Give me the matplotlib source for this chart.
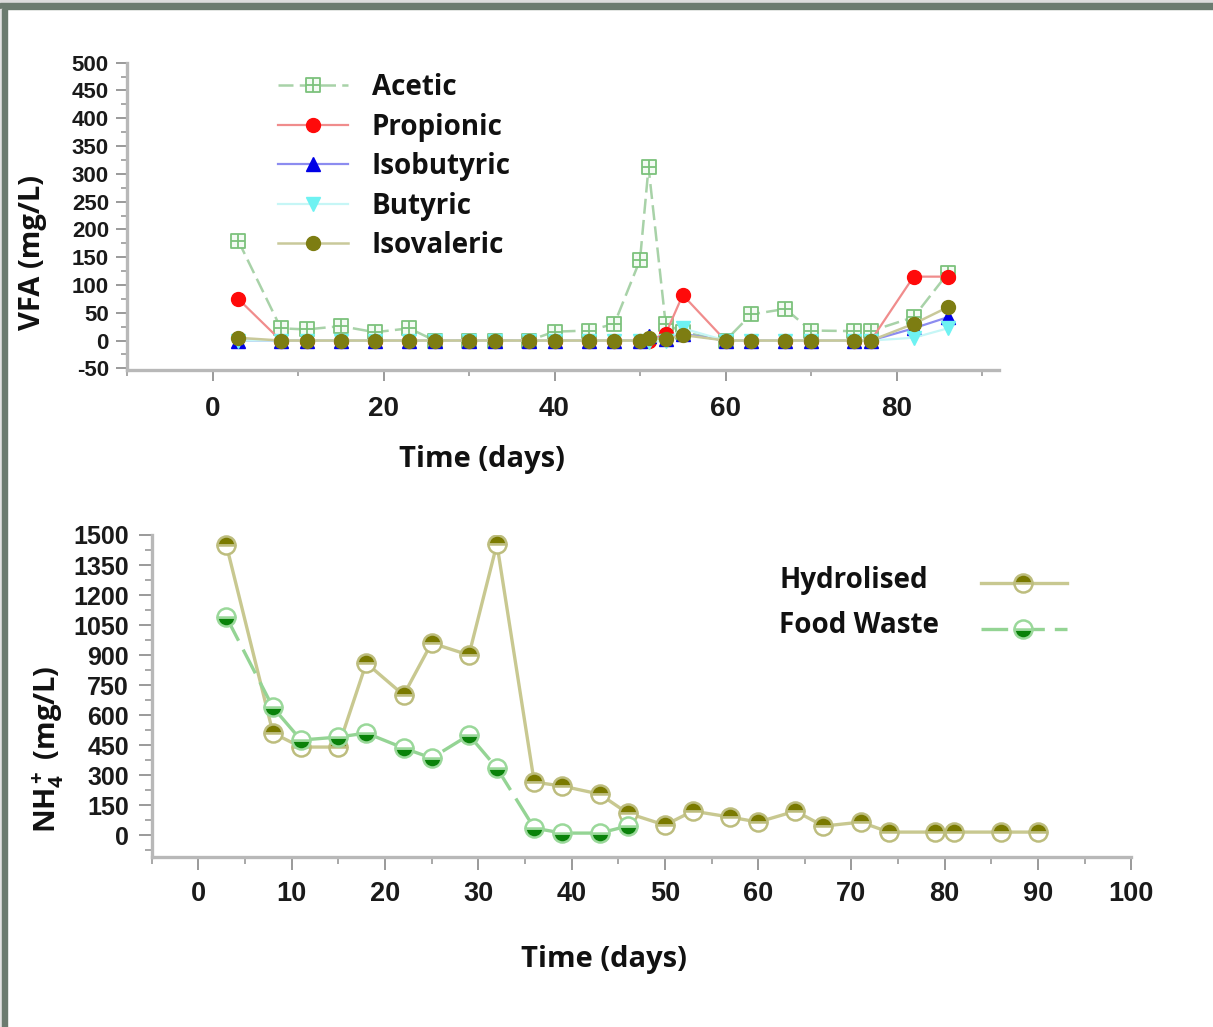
import matplotlib
matplotlib.use("Agg")
import matplotlib.pyplot as plt
from matplotlib.path import Path
from matplotlib.patches import Rectangle
from matplotlib.lines import Line2D
from matplotlib.ticker import MultipleLocator

# ---------------- data ----------------
vfa_days = [3, 8, 11, 15, 19, 23, 26, 30, 33, 37, 40, 44, 47, 50, 51, 53, 55, 60, 63, 67, 70, 75, 77, 82, 86]
acetic     = [180, 22, 20, 26, 15, 22, 0, 0, 0, 0, 16, 18, 30, 145, 312, 30, 15, 0, 47, 57, 18, 17, 17, 42, 121]
propionic  = [75, 0, 0, 0, 0, 0, 0, 0, 0, 0, 0, 0, 0, 0, 0, 12, 82, 0, 0, 0, 0, 0, 0, 115, 115]
isobutyric = [0, 0, 0, 0, 0, 0, 0, 0, 0, 0, 0, 0, 0, 0, 8, 2, 12, 0, 0, 0, 0, 0, 0, 22, 42]
butyric    = [0, 0, 0, 0, 0, 0, 0, 0, 0, 0, 0, 0, 0, 0, -3, 0, 22, 0, 0, 0, 0, 0, 0, 5, 22]
isovaleric = [5, 0, 0, 0, 0, 0, 0, 0, 0, 0, 0, 0, 0, 0, 5, 2, 10, 0, 0, 0, 0, 0, 0, 30, 60]
vfa_names = ["Acetic", "Propionic", "Isobutyric", "Butyric", "Isovaleric"]

hyd_days = [3, 8, 11, 15, 18, 22, 25, 29, 32, 36, 39, 43, 46, 50, 53, 57, 60, 64, 67, 71, 74, 79, 81, 86, 90]
hydrolised = [1450, 510, 440, 440, 860, 700, 960, 900, 1455, 265, 245, 205, 110, 50, 120, 90, 65, 120, 45, 65, 15, 15, 15, 15, 15]
fw_days = [3, 8, 11, 15, 18, 22, 25, 29, 32, 36, 39, 43, 46]
food_waste = [1090, 638, 475, 490, 510, 435, 385, 500, 335, 35, 10, 10, 45]
nh4_names = ["Hydrolised", "Food Waste"]

# ---------------- style ----------------
W, H = 1213, 1027
plt.rcParams['axes.unicode_minus'] = False
plt.rcParams['mathtext.fontset'] = 'custom'
plt.rcParams['mathtext.bf'] = 'Open Sans:bold'
plt.rcParams['mathtext.rm'] = 'Open Sans:bold'
plt.rcParams['mathtext.default'] = 'bf'
LABEL_FONT = dict(family='Open Sans', weight='bold', size=21, color='#111111')
TICK_FONT = 'Liberation Sans'
SPINE_C = '#b8b8b8'
TICK_C = '#9a9a9a'

fig = plt.figure(figsize=(W / 100, H / 100), dpi=100)
fig.patch.set_facecolor('white')

# frame
fig.patches.append(Rectangle((0, 1 - 3 / H), 1, 3 / H, transform=fig.transFigure, color='#dcdcdc', zorder=0))
fig.patches.append(Rectangle((0, 1 - 9 / H), 1, 6 / H, transform=fig.transFigure, color='#6b7b6f', zorder=0))
fig.patches.append(Rectangle((0, 0), 2 / W, 1 - 9 / H, transform=fig.transFigure, color='#e2e2e2', zorder=0))
fig.patches.append(Rectangle((2 / W, 0), 5 / W, 1 - 9 / H, transform=fig.transFigure, color='#6b7b6f', zorder=0))


def px_axes(l, t, r, b):
    return fig.add_axes([l / W, 1 - b / H, (r - l) / W, (b - t) / H])


def style_axes(ax, xsize, ysize, ylen):
    for s in ('top', 'right'):
        ax.spines[s].set_visible(False)
    for s in ('left', 'bottom'):
        ax.spines[s].set_color(SPINE_C)
        ax.spines[s].set_linewidth(2.4)
    ax.tick_params(which='major', direction='out', color=TICK_C, width=1.4, length=ylen)
    ax.tick_params(which='minor', direction='out', color=TICK_C, width=1.2, length=ylen * 0.5)
    for lab in ax.get_xticklabels():
        lab.set_fontfamily(TICK_FONT); lab.set_fontweight('bold'); lab.set_fontsize(xsize); lab.set_color('#1a1a1a')
    for lab in ax.get_yticklabels():
        lab.set_fontfamily(TICK_FONT); lab.set_fontweight('bold'); lab.set_fontsize(ysize); lab.set_color('#1a1a1a')


# ---------------- top: VFA ----------------
ax1 = px_axes(127, 62.7, 127 + 102 * 8.55, 370)
ax1.set_xlim(-10, 92)
ax1.set_ylim(-53, 500)
ax1.xaxis.set_major_locator(MultipleLocator(20))
ax1.xaxis.set_minor_locator(MultipleLocator(10))
ax1.yaxis.set_major_locator(MultipleLocator(50))
ax1.yaxis.set_minor_locator(MultipleLocator(25))
ax1.set_xticks([0, 20, 40, 60, 80])
ax1.set_yticks(list(range(-50, 501, 50)))

sq_verts = [(-1, -1), (1, -1), (1, 1), (-1, 1), (-1, -1), (0, -1), (0, 1), (-1, 0), (1, 0)]
sq_codes = [Path.MOVETO, Path.LINETO, Path.LINETO, Path.LINETO, Path.CLOSEPOLY,
            Path.MOVETO, Path.LINETO, Path.MOVETO, Path.LINETO]
box_plus = Path(sq_verts, sq_codes)

h_ac, = ax1.plot(vfa_days, acetic, color='#a8d2a8', lw=1.8, ls=(0, (6, 2.5)),
                 marker=box_plus, ms=10, mfc='#f4fbf4', mec='#7cc27c', mew=1.3, label=vfa_names[0], zorder=2)
h_pr, = ax1.plot(vfa_days, propionic, color='#f08c8c', lw=1.6,
                 marker='o', ms=10, mfc='#ff0a0a', mec='#ff0a0a', label=vfa_names[1], zorder=3)
h_ib, = ax1.plot(vfa_days, isobutyric, color='#8c8cf0', lw=1.6,
                 marker='^', ms=10, mfc='#0000e6', mec='#0000e6', label=vfa_names[2], zorder=4)
h_bu, = ax1.plot(vfa_days, butyric, color='#c6f6f6', lw=1.6,
                 marker='v', ms=10, mfc='#6ef2f2', mec='#6ef2f2', label=vfa_names[3], zorder=5)
h_iv, = ax1.plot(vfa_days, isovaleric, color='#c9c99a', lw=1.8,
                 marker='o', ms=10, mfc='#7d7d12', mec='#7d7d12', label=vfa_names[4], zorder=6)
style_axes(ax1, 20, 16, 8)
ax1.tick_params(axis='x', pad=11)
ax1.tick_params(axis='y', pad=5)

leg1 = ax1.legend(handles=[h_ac, h_pr, h_ib, h_bu, h_iv], loc='upper left',
                  bbox_to_anchor=(278 / W, 1 - 73 / H), bbox_transform=fig.transFigure,
                  frameon=False, borderpad=0, borderaxespad=0, handlelength=2.52,
                  handletextpad=0.86, labelspacing=0.38,
                  prop=dict(family='Open Sans', weight='bold', size=20))
for t in leg1.get_texts():
    t.set_color('#111111')

fig.text(482 / W, 1 - 466.7 / H, 'Time (days)', ha='center', va='baseline', **LABEL_FONT)
fig.text(32.5 / W, 1 - 253 / H, 'VFA (mg/L)', ha='center', va='center', rotation=90, **LABEL_FONT)

# ---------------- bottom: NH4+ ----------------
ax2 = px_axes(151.7, 535, 151.7 + 105 * 9.33, 856.7)
ax2.set_xlim(-5, 100)
ax2.set_ylim(-108, 1500)
ax2.xaxis.set_major_locator(MultipleLocator(10))
ax2.xaxis.set_minor_locator(MultipleLocator(5))
ax2.yaxis.set_minor_locator(MultipleLocator(75))
ax2.set_xticks(list(range(0, 101, 10)))
ax2.set_yticks(list(range(0, 1501, 150)))

hy_style = dict(color='#c8c890', lw=2.4)
hy_mark = dict(marker='o', ms=13, fillstyle='top', mfc='#7a7a00', mfcalt='white', mec='#bdbd7e', mew=1.8)
fw_style = dict(color='#94d494', lw=2.4, ls=(0, (8, 3)))
fw_mark = dict(marker='o', ms=13, fillstyle='bottom', mfc='#0a820a', mfcalt='white', mec='#9ad89a', mew=1.8)

ax2.plot(hyd_days, hydrolised, **hy_style, **hy_mark, label=nh4_names[0], zorder=3)
ax2.plot(fw_days, food_waste, **fw_style, **fw_mark, label=nh4_names[1], zorder=4)
style_axes(ax2, 19.5, 18, 9.5)
ax2.tick_params(axis='x', pad=8)
ax2.tick_params(axis='y', pad=7)

# legend: text left, sample on the right (left-aligned text column)
rows = [(578, 582.7, nh4_names[0], hy_style, hy_mark), (623, 629, nh4_names[1], fw_style, fw_mark)]
for text_y, line_y, name, lstyle, mstyle in rows:
    fig.text(779 / W, 1 - (text_y + 10) / H, name, ha='left', va='baseline',
             family='Open Sans', weight='bold', size=20, color='#111111')
    fig.add_artist(Line2D([981 / W, 1067 / W], [1 - line_y / H] * 2, transform=fig.transFigure, **lstyle))
    fig.add_artist(Line2D([1023 / W], [1 - line_y / H], transform=fig.transFigure, ls='none', **mstyle))

fig.text(603.5 / W, 1 - 967.3 / H, 'Time (days)', ha='center', va='baseline', **LABEL_FONT)
fig.text(48 / W, 1 - 749 / H, r'NH$_4^+$ (mg/L)', ha='center', va='center', rotation=90, **LABEL_FONT)

fig.savefig('out.png', dpi=100, facecolor='white')
